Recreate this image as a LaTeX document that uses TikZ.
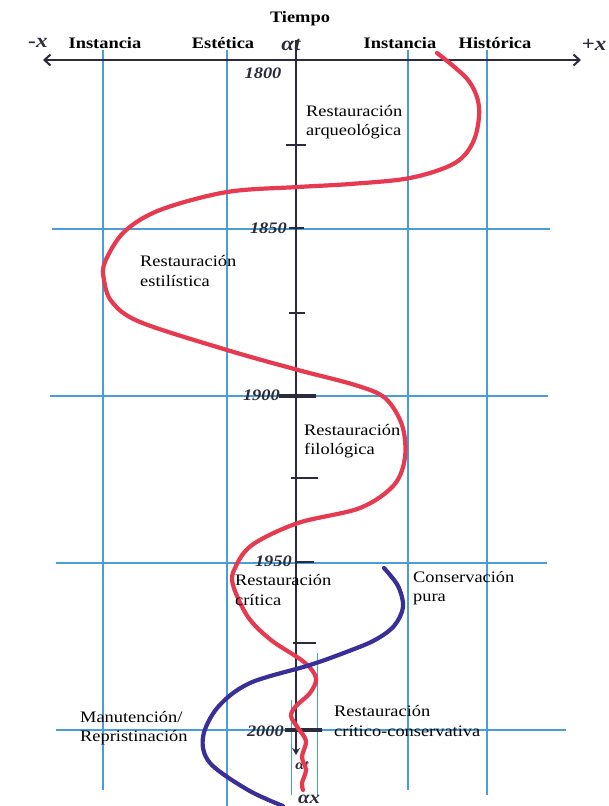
\documentclass[tikz,border=0pt]{standalone}
\usepackage{fontspec}
\setmainfont{Liberation Serif}[FakeStretch=1.15]
\usetikzlibrary{arrows.meta}
\definecolor{gridblue}{HTML}{4A9ED8}
\definecolor{curvered}{HTML}{E53A50}
\definecolor{curveblue}{HTML}{3A2E98}
\definecolor{axisblack}{HTML}{2B2B3B}
\begin{document}
\begin{tikzpicture}[x=1pt,y=-1pt,
  gridline/.style={gridblue, line width=1.3pt},
  thingrid/.style={gridblue, line width=1pt},
  axisline/.style={axisblack, line width=2pt},
  tickmark/.style={axisblack, line width=2pt},
  thicktick/.style={axisblack, line width=4pt},
  redcurve/.style={curvered, line width=4.2pt, line cap=round, line join=round},
  bluecurve/.style={curveblue, line width=4.2pt, line cap=round, line join=round},
  head/.style={font=\fontsize{16}{19.5}\selectfont\bfseries, inner sep=0pt},
  lab/.style={font=\fontsize{16}{19.5}\selectfont, align=left, anchor=west, inner sep=0pt},
  year/.style={font=\fontsize{16}{16}\selectfont\itshape\bfseries, text=axisblack, inner sep=0pt}]
\useasboundingbox (0,0) rectangle (608,806);
\fill[white] (0,0) rectangle (608,806);

% grid lines
\draw[gridline] (103,50) -- (103,790);
\draw[gridline] (227,50) -- (227,806);
\draw[gridline] (408,50) -- (408,790);
\draw[gridline] (487,50) -- (487,795);
\draw[gridline] (52,229) -- (550,229);
\draw[gridline] (50,396) -- (548,396);
\draw[gridline] (56,563) -- (547,563);
\draw[gridline] (56,730) -- (566,730);
\draw[thingrid] (291,700) -- (291,795);
\draw[thingrid] (317,653) -- (317,795);

% axes
\coordinate (xl) at (43,60);
\coordinate (xr) at (581,60);
\coordinate (tt) at (296,40);
\coordinate (tb) at (296,755);
\draw[axisline, {Straight Barb[length=6pt,width=11pt]}-{Straight Barb[length=6pt,width=11pt]}] (xl) -- (xr);
\draw[axisline, -{Stealth[length=7pt,width=8pt]}] (tt) -- (tb);

% ticks
\draw[tickmark] (286,145) -- (306,145);
\draw[tickmark] (289,228) -- (304,228);
\draw[tickmark] (289,313) -- (305,313);
\draw[thicktick] (279,396) -- (316,396);
\draw[tickmark] (291,478) -- (318,478);
\draw[tickmark] (295,562) -- (314,562);
\draw[tickmark] (293,643) -- (316,643);
\draw[thicktick] (285,730) -- (322,730);

% years
\node[year] (y1800) at (263,73) {1800};
\node[year, anchor=east] (y1850) at (287,228) {1850};
\node[year, anchor=east] (y1900) at (280,395) {1900};
\node[year, anchor=east] (y1950) at (292,561) {1950};
\node[year, anchor=east] (y2000) at (284,731) {2000};
\node[year, font=\fontsize{20}{20}\selectfont\itshape\bfseries] (topsym) at (291,45) {αt};
\node[year, font=\fontsize{14}{14}\selectfont\itshape\bfseries] (botsym) at (302,766) {αt};
\node[year, font=\fontsize{18}{18}\selectfont\itshape\bfseries] (botx) at (309,799) {αx};
\node[year, font=\fontsize{20}{20}\selectfont\itshape\bfseries] (mx) at (38,43) {-x};
\node[year, font=\fontsize{20}{20}\selectfont\itshape\bfseries] (px) at (594,45) {+x};

% curves
\draw[redcurve] plot[smooth, tension=0.55] coordinates {
 (437,53) (468,80) (479,107) (474,140) (455,163) (410,178) (350,184)
 (298,187) (227,192) (160,210) (124,232) (105,262) (104,280) (112,302)
 (140,322) (227,350) (298,370) (355,385) (385,398) (402,425) (405,457)
 (394,485) (360,508) (298,523) (252,545) (235,568) (233,585) (248,617)
 (271,640) (304,662) (316,678) (310,693) (296,706) (291,716) (298,728)
 (306,741) (302,757) (306,770) (302,783) (303,790)};
\draw[bluecurve] plot[smooth, tension=0.55] coordinates {
 (384,568) (398,586) (403,607) (394,626) (375,640) (349,651) (310,665)
 (250,683) (218,707) (203,737) (210,763) (248,790) (283,806)};

% headings
\node[head] (tiempo) at (300,19) {Tiempo};
\node[head] (inst1) at (105,43) {Instancia};
\node[head] (estet) at (223,43) {Estética};
\node[head] (inst2) at (400,43) {Instancia};
\node[head] (hist) at (495,43) {Histórica};

% labels
\node[lab] (arq) at (306,122) {Restauración\\arqueológica};
\node[lab] (estil) at (140,271) {Restauración\\estilística};
\node[lab] (filol) at (304,441) {Restauración\\filológica};
\node[lab] (crit) at (235,590) {Restauración\\crítica};
\node[lab] (cons) at (413,588) {Conservación\\pura};
\node[lab] (manut) at (80,728) {Manutención/\\Repristinación};
\node[lab] (critcons) at (334,721) {Restauración\\crítico-conservativa};
\end{tikzpicture}
\end{document}
